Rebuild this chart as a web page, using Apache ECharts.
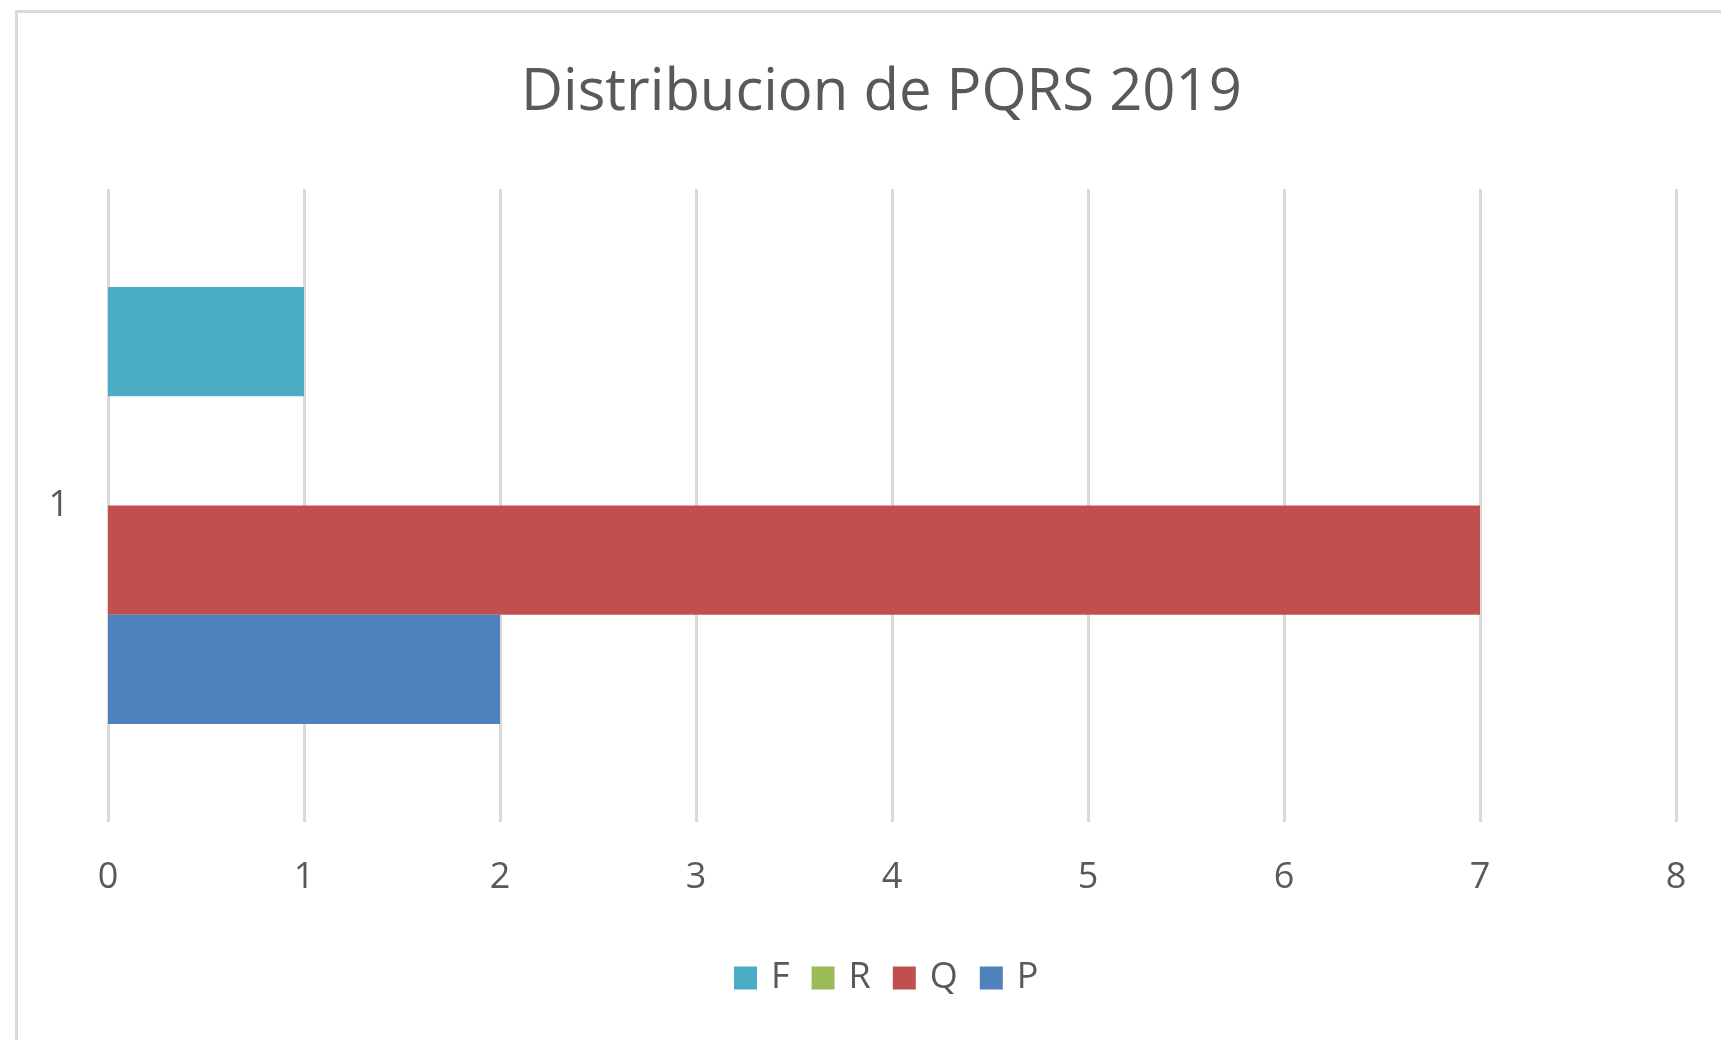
<!DOCTYPE html>
<html>
<head>
<meta charset="utf-8">
<script src="https://cdn.jsdelivr.net/npm/echarts@6/dist/echarts.min.js"></script>
<style>
  html, body { margin: 0; padding: 0; background: #fff; }
  #chart { width: 1721px; height: 1040px; }
</style>
</head>
<body>
<div id="chart"></div>
<script>
const categories = ['1']
const valueTicks = [0, 1, 2, 3, 4, 5, 6, 7, 8]
const legendOrder = ['F', 'R', 'Q', 'P']
const fValues = [1]
const rValues = [0]
const qValues = [7]
const pValues = [2]

const colors = {
  P: '#4f81bd',
  Q: '#c0504d',
  R: '#9bbb59',
  F: '#4bacc6'
}

const font = '"Open Sans", "Noto Sans", sans-serif'
const textColor = '#595959'

const chart = echarts.init(document.getElementById('chart'))

const makeSeries = (name, data) => ({
  name,
  type: 'bar',
  data,
  barGap: '0%',
  barCategoryGap: '31%',
  itemStyle: { color: colors[name] }
})

const option = {
  backgroundColor: '#fff',
  animation: false,
  title: {
    text: 'Distribucion de PQRS 2019',
    left: 516,
    top: 59,
    textStyle: {
      fontFamily: font,
      fontSize: 58,
      fontWeight: 'normal',
      color: textColor
    }
  },
  legend: {
    data: legendOrder,
    top: 955,
    left: 729,
    itemWidth: 23,
    itemHeight: 23,
    itemGap: 22,
    icon: 'rect',
    textStyle: {
      fontFamily: font,
      fontSize: 36,
      color: textColor,
      padding: [0, 0, 0, 9]
    }
  },
  grid: {
    left: 108,
    right: 45,
    top: 189,
    bottom: 218
  },
  xAxis: {
    type: 'value',
    min: valueTicks[0],
    max: valueTicks[valueTicks.length - 1],
    interval: 1,
    axisLine: { show: false },
    axisTick: { show: false },
    splitLine: { lineStyle: { color: '#d9d9d9', width: 3 } },
    axisLabel: {
      margin: 38,
      fontFamily: font,
      fontSize: 36,
      color: textColor
    }
  },
  yAxis: {
    type: 'category',
    data: categories,
    axisLine: { show: false },
    axisTick: { show: false },
    axisLabel: {
      margin: 39,
      fontFamily: font,
      fontSize: 36,
      color: textColor
    }
  },
  graphic: [{
    type: 'rect',
    left: 14,
    top: 9,
    shape: { width: 1740, height: 1060 },
    style: { fill: 'none', stroke: '#d9d9d9', lineWidth: 3 },
    silent: true,
    z: -1
  }],
  series: [
    makeSeries('F', fValues),
    makeSeries('R', rValues),
    makeSeries('Q', qValues),
    makeSeries('P', pValues)
  ]
}

chart.setOption(option)
</script>
</body>
</html>
